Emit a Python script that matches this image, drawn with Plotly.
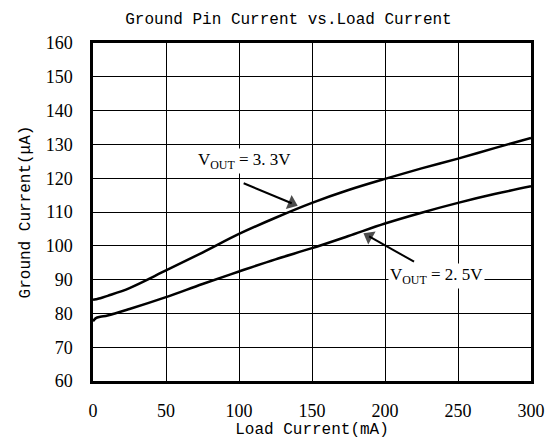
import plotly.graph_objects as go

load_ma = [0, 2, 5, 10, 25, 50, 75, 100, 125, 150, 175, 200, 225, 250, 275, 300]
ignd_33 = [84.0, 84.2, 84.5, 85.2, 87.5, 92.7, 98.0, 103.5, 108.3, 112.7, 116.5, 119.8, 122.9, 125.8, 128.9, 131.9]
ignd_25 = [77.7, 78.6, 79.0, 79.4, 81.3, 84.8, 88.7, 92.4, 96.0, 99.3, 102.9, 106.6, 109.8, 112.7, 115.3, 117.6]

x_ticks = [0, 50, 100, 150, 200, 250, 300]
y_ticks = [60, 70, 80, 90, 100, 110, 120, 130, 140, 150, 160]

title_text = "Ground Pin Current vs.Load Current"
x_title = "Load Current(mA)"
y_title = "Ground Current(μA)"

# pointer arrows (tail -> head centre) in data units
arrow_33_x = [103.2, 136.1]
arrow_33_y = [118.5, 112.6]
arrow_25_x = [219.9, 189.1]
arrow_25_y = [95.3, 102.8]

mono = "Liberation Mono"
serif = "Liberation Serif"

fig = go.Figure()
fig.add_trace(go.Scatter(x=load_ma, y=ignd_33, mode="lines", line=dict(color="black", width=2.5, shape="spline"),
                         name="VOUT = 3.3V", showlegend=False, hoverinfo="skip"))
fig.add_trace(go.Scatter(x=load_ma, y=ignd_25, mode="lines", line=dict(color="black", width=2.5, shape="spline"),
                         name="VOUT = 2.5V", showlegend=False, hoverinfo="skip"))

for ax_, ay_ in ((arrow_33_x, arrow_33_y), (arrow_25_x, arrow_25_y)):
    fig.add_trace(go.Scatter(x=ax_, y=ay_, mode="lines+markers", showlegend=False, hoverinfo="skip",
                             line=dict(color="black", width=2),
                             marker=dict(symbol=["circle", "triangle-up"], size=[0, 13], angleref="previous",
                                         color="black", line=dict(width=0))))

# labels
fig.add_annotation(x=104, y=125, xref="x", yref="y", text="V<sub>OUT</sub> = 3. 3V", showarrow=False,
                   font=dict(family=serif, size=17, color="black"), bgcolor="white")
fig.add_annotation(x=235, y=91, xref="x", yref="y", text="V<sub>OUT</sub> = 2. 5V", showarrow=False,
                   font=dict(family=serif, size=17, color="black"), bgcolor="white")

fig.update_layout(
    width=557, height=446,
    margin=dict(l=93, r=26, t=43, b=65),
    paper_bgcolor="white", plot_bgcolor="white",
    title=dict(text=title_text, xref="container", yref="container", x=288.5 / 557, y=1 - 18 / 446,
               xanchor="center", yanchor="middle", font=dict(family=mono, size=16, color="black")),
    xaxis=dict(range=[0, 300], tickvals=x_ticks, showgrid=True, gridcolor="black", gridwidth=1,
               showline=True, linecolor="black", linewidth=2.5, mirror=True, zeroline=False,
               ticks="", ticklabelstandoff=12, tickfont=dict(family=serif, size=18, color="black"),
               title=dict(text=x_title, font=dict(family=mono, size=16, color="black"), standoff=0)),
    yaxis=dict(range=[60, 160], tickvals=y_ticks, showgrid=True, gridcolor="black", gridwidth=1,
               showline=True, linecolor="black", linewidth=2.5, mirror=True, zeroline=False,
               ticks="", ticklabelstandoff=14, tickfont=dict(family=serif, size=18, color="black"),
               title=dict(text=y_title, font=dict(family=mono, size=16, color="black"), standoff=12)),
)

fig.write_html("out.html", config={"displayModeBar": False},
               post_script="document.body.style.margin='0';")
